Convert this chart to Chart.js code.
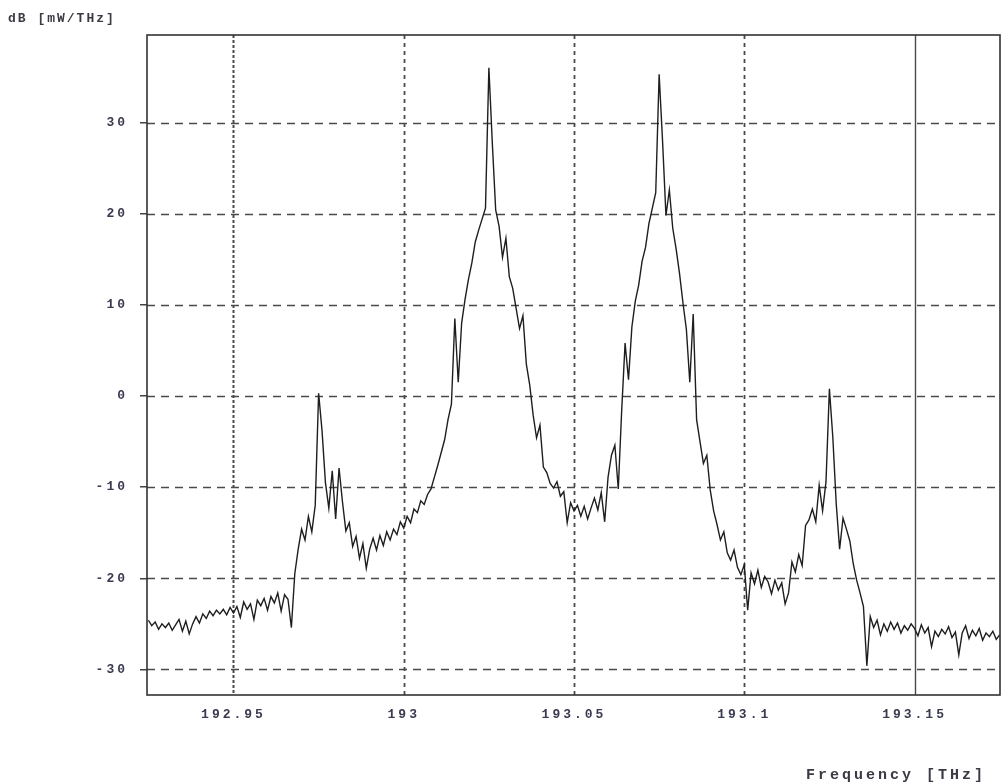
<!DOCTYPE html>
<html>
<head>
<meta charset="utf-8">
<script src="https://cdn.jsdelivr.net/npm/chart.js@4.4.1/dist/chart.umd.min.js"></script>
<style>
  html, body { margin: 0; padding: 0; background: #fff; overflow: hidden; }
  #wrap { position: relative; width: 1004px; height: 782px; overflow: hidden; }
  .axis-title {
    position: absolute;
    font-family: 'Liberation Mono', 'DejaVu Sans Mono', monospace;
    font-weight: bold;
    color: #3a3a44;
    white-space: nowrap;
  }
  #yTitle { left: 8px; top: 11px; font-size: 13px; letter-spacing: 2px; }
  #xTitle { left: 806px; top: 767px; font-size: 15px; letter-spacing: 3px; }
</style>
</head>
<body>
<div id="wrap">
  <canvas id="myChart" width="1004" height="782"></canvas>
  <div class="axis-title" id="yTitle">dB [mW/THz]</div>
  <div class="axis-title" id="xTitle">Frequency [THz]</div>
</div>
<script>
// frequency samples [THz]
const freqs = [
  192.925, 192.926, 192.927, 192.928, 192.929, 192.930, 192.931, 192.932, 192.933, 192.934,
  192.935, 192.936, 192.937, 192.938, 192.939, 192.940, 192.941, 192.942, 192.943, 192.944,
  192.945, 192.946, 192.947, 192.948, 192.949, 192.950, 192.951, 192.952, 192.953, 192.954,
  192.955, 192.956, 192.957, 192.958, 192.959, 192.960, 192.961, 192.962, 192.963, 192.964,
  192.965, 192.966, 192.967, 192.968, 192.969, 192.970, 192.971, 192.972, 192.973, 192.974,
  192.975, 192.976, 192.977, 192.978, 192.979, 192.980, 192.981, 192.982, 192.983, 192.984,
  192.985, 192.986, 192.987, 192.988, 192.989, 192.990, 192.991, 192.992, 192.993, 192.994,
  192.995, 192.996, 192.997, 192.998, 192.999, 193.000, 193.001, 193.002, 193.003, 193.004,
  193.005, 193.006, 193.007, 193.008, 193.009, 193.010, 193.011, 193.012, 193.013, 193.014,
  193.015, 193.016, 193.017, 193.018, 193.019, 193.020, 193.021, 193.022, 193.023, 193.024,
  193.025, 193.026, 193.027, 193.028, 193.029, 193.030, 193.031, 193.032, 193.033, 193.034,
  193.035, 193.036, 193.037, 193.038, 193.039, 193.040, 193.041, 193.042, 193.043, 193.044,
  193.045, 193.046, 193.047, 193.048, 193.049, 193.050, 193.051, 193.052, 193.053, 193.054,
  193.055, 193.056, 193.057, 193.058, 193.059, 193.060, 193.061, 193.062, 193.063, 193.064,
  193.065, 193.066, 193.067, 193.068, 193.069, 193.070, 193.071, 193.072, 193.073, 193.074,
  193.075, 193.076, 193.077, 193.078, 193.079, 193.080, 193.081, 193.082, 193.083, 193.084,
  193.085, 193.086, 193.087, 193.088, 193.089, 193.090, 193.091, 193.092, 193.093, 193.094,
  193.095, 193.096, 193.097, 193.098, 193.099, 193.100, 193.101, 193.102, 193.103, 193.104,
  193.105, 193.106, 193.107, 193.108, 193.109, 193.110, 193.111, 193.112, 193.113, 193.114,
  193.115, 193.116, 193.117, 193.118, 193.119, 193.120, 193.121, 193.122, 193.123, 193.124,
  193.125, 193.126, 193.127, 193.128, 193.129, 193.130, 193.131, 193.132, 193.133, 193.134,
  193.135, 193.136, 193.137, 193.138, 193.139, 193.140, 193.141, 193.142, 193.143, 193.144,
  193.145, 193.146, 193.147, 193.148, 193.149, 193.150, 193.151, 193.152, 193.153, 193.154,
  193.155, 193.156, 193.157, 193.158, 193.159, 193.160, 193.161, 193.162, 193.163, 193.164,
  193.165, 193.166, 193.167, 193.168, 193.169, 193.170, 193.171, 193.172, 193.173, 193.174,
  193.175
];

// power density [dB mW/THz]
const powerDb = [
  -24.6, -25.2, -24.8, -25.6, -25.0, -25.4, -24.9, -25.7, -25.1, -24.5,
  -25.8, -24.7, -26.1, -25.0, -24.2, -24.9, -23.9, -24.4, -23.6, -24.1,
  -23.5, -23.9, -23.4, -24.0, -23.2, -23.8, -23.1, -24.3, -22.6, -23.4,
  -22.8, -24.5, -22.4, -23.0, -22.2, -23.5, -22.0, -22.7, -21.6, -23.6,
  -21.8, -22.3, -25.4, -19.5, -16.8, -14.6, -15.8, -13.2, -14.9, -12.0,
  0.3, -3.8, -9.5, -12.3, -8.2, -13.5, -7.9, -11.6, -14.8, -13.9,
  -16.5, -15.4, -17.8, -16.2, -18.9, -16.8, -15.6, -16.9, -15.3, -16.4,
  -14.9, -15.8, -14.6, -15.2, -13.8, -14.5, -13.2, -13.9, -12.4, -12.8,
  -11.5, -11.9, -10.8, -10.2, -8.9, -7.6, -6.2, -4.8, -2.6, -0.9,
  8.5, 1.5, 8.0, 10.6, 12.8, 14.6, 16.9, 18.2, 19.4, 20.6,
  36.0, 27.8, 20.4, 18.6, 15.2, 17.3, 13.1, 11.8, 9.6, 7.4,
  8.8, 3.5, 1.2, -2.1, -4.6, -3.2, -7.8, -8.4, -9.6, -10.1,
  -9.4, -11.0, -10.5, -13.9, -11.7, -12.6, -12.0, -13.2, -12.1, -13.5,
  -12.3, -11.2, -12.5, -10.6, -13.8, -8.9, -6.5, -5.4, -10.2, -1.6,
  5.8, 1.8, 7.6, 10.4, 12.2, 14.8, 16.3, 18.9, 20.6, 22.3,
  35.3, 28.0, 19.8, 22.6, 18.4, 16.1, 13.4, 10.2, 7.3, 1.5,
  9.0, -2.6, -5.0, -7.4, -6.5, -10.3, -12.6, -14.1, -15.8, -14.9,
  -17.2, -18.0, -16.9, -18.8, -19.6, -18.5, -23.5, -19.4, -20.6, -19.1,
  -21.0, -19.8, -20.4, -21.7, -20.2, -21.3, -20.5, -22.8, -21.6, -18.2,
  -19.3, -17.4, -18.6, -14.2, -13.6, -12.4, -13.8, -9.8, -12.6, -9.4,
  0.8, -4.5, -11.8, -16.8, -13.4, -14.6, -15.9, -18.4, -20.2, -21.6,
  -23.1, -29.6, -24.2, -25.4, -24.6, -26.2, -25.0, -25.8, -24.8, -25.6,
  -24.9, -26.0, -25.2, -25.7, -25.0, -25.5, -26.3, -25.1, -26.0, -25.4,
  -27.5, -25.8, -26.4, -25.6, -26.1, -25.3, -26.5, -25.9, -28.4, -26.0,
  -25.2, -26.6, -25.7, -26.3, -25.5, -26.8, -26.0, -26.4, -25.8, -26.7,
  -26.2
];

const xTicks = [192.95, 193, 193.05, 193.1, 193.15];
const yTicks = [-30, -20, -10, 0, 10, 20, 30];

const tickFont = {
  family: "'Liberation Mono', 'DejaVu Sans Mono', monospace",
  size: 13,
  weight: 'bold'
};

// dashed grid + frame, positions taken from the scales
const gridPlugin = {
  id: 'scopeGrid',
  beforeDraw(chart) {
    chart.ctx.letterSpacing = '3px';
  },
  beforeDatasetsDraw(chart) {
    const { ctx, chartArea: a, scales } = chart;
    ctx.save();
    ctx.strokeStyle = '#4a4a4a';

    ctx.lineWidth = 1.6;
    ctx.setLineDash([8, 6]);
    yTicks.forEach(v => {
      const py = Math.round(scales.y.getPixelForValue(v)) + 0.5;
      ctx.beginPath();
      ctx.moveTo(a.left, py);
      ctx.lineTo(a.right, py);
      ctx.stroke();
    });

    xTicks.forEach(v => {
      const px = Math.round(scales.x.getPixelForValue(v)) + 0.5;
      if (v === 193.15) {
        ctx.setLineDash([]);
        ctx.lineWidth = 1.4;
      } else if (v === 192.95) {
        ctx.setLineDash([3, 2]);
        ctx.lineWidth = 2;
      } else {
        ctx.setLineDash([4, 4]);
        ctx.lineWidth = 1.8;
      }
      ctx.beginPath();
      ctx.moveTo(px, a.top);
      ctx.lineTo(px, a.bottom);
      ctx.stroke();
    });
    ctx.restore();
  },
  afterDraw(chart) {
    const { ctx, chartArea: a } = chart;
    ctx.save();
    ctx.strokeStyle = '#333';
    ctx.lineWidth = 1.6;
    ctx.setLineDash([]);
    ctx.strokeRect(a.left, a.top, a.right - a.left, a.bottom - a.top);
    ctx.restore();
  }
};

const graph = document.getElementById('myChart').getContext('2d');

const myChart = new Chart(graph, {
  type: 'line',
  data: {
    datasets: [{
      label: 'Spectrum',
      data: freqs.map((f, i) => ({ x: f, y: powerDb[i] })),
      borderColor: '#1e1e1e',
      borderWidth: 1.4,
      pointRadius: 0,
      tension: 0,
      fill: false
    }]
  },
  options: {
    responsive: false,
    animation: false,
    layout: { padding: { top: 35, right: 4, left: 0, bottom: 0 } },
    plugins: {
      legend: { display: false },
      tooltip: { enabled: false }
    },
    scales: {
      x: {
        type: 'linear',
        min: 192.9246,
        max: 193.1751,
        afterFit: (s) => { s.height = 87; },
        afterBuildTicks: (s) => { s.ticks = xTicks.map(v => ({ value: v })); },
        grid: { display: false, drawTicks: false },
        border: { display: false },
        ticks: {
          color: '#3a3a50',
          font: tickFont,
          padding: 12,
          maxRotation: 0,
          autoSkip: false,
          callback: (v) => String(parseFloat(Number(v).toFixed(3)))
        }
      },
      y: {
        type: 'linear',
        min: -32.8,
        max: 39.6,
        afterFit: (s) => { s.width = 147; },
        afterBuildTicks: (s) => { s.ticks = yTicks.map(v => ({ value: v })); },
        grid: {
          display: true,
          drawOnChartArea: false,
          drawTicks: true,
          tickLength: 7,
          color: '#444',
          lineWidth: 1.5
        },
        border: { display: false },
        ticks: {
          color: '#3a3a50',
          font: tickFont,
          padding: 12,
          autoSkip: false,
          callback: (v) => String(v)
        }
      }
    }
  },
  plugins: [gridPlugin]
});
</script>
</body>
</html>
